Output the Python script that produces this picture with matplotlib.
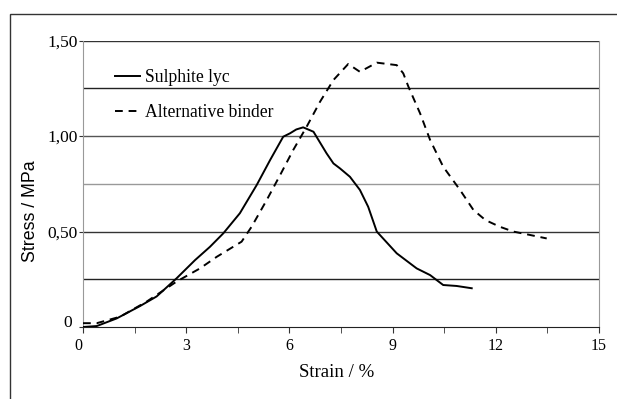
import matplotlib
matplotlib.use("Agg")
import matplotlib.pyplot as plt
from matplotlib.patches import Rectangle
from matplotlib.transforms import ScaledTranslation

# Data
sulphite_x = [0.0, 0.4, 0.98, 1.66, 2.14, 2.72, 3.26, 3.69, 4.08, 4.56, 5.05, 5.44, 5.82, 6.02, 6.2, 6.4, 6.7, 7.08, 7.28, 7.47, 7.76, 8.05, 8.29, 8.54, 9.12, 9.7, 10.09, 10.47, 10.86, 11.3]
sulphite_y = [0.0, 0.005, 0.045, 0.11, 0.16, 0.255, 0.351, 0.42, 0.491, 0.596, 0.744, 0.875, 0.997, 1.015, 1.035, 1.046, 1.023, 0.91, 0.857, 0.831, 0.787, 0.718, 0.63, 0.5, 0.386, 0.307, 0.272, 0.22, 0.215, 0.203]

binder_x = [0.0, 0.4, 1.08, 1.85, 2.72, 3.4, 3.89, 4.61, 4.9, 5.34, 5.73, 6.11, 6.5, 6.89, 7.28, 7.71, 8.05, 8.54, 9.12, 9.31, 9.46, 9.8, 10.09, 10.47, 10.96, 11.35, 11.7, 12.12, 12.51, 13.0, 13.48]
binder_y = [0.02, 0.02, 0.054, 0.133, 0.238, 0.307, 0.368, 0.447, 0.525, 0.665, 0.796, 0.927, 1.049, 1.18, 1.294, 1.378, 1.337, 1.385, 1.372, 1.329, 1.259, 1.119, 0.98, 0.84, 0.718, 0.613, 0.56, 0.525, 0.5, 0.482, 0.464]

x_ticks = [0, 3, 6, 9, 12, 15]
x_minor = [1.5, 4.5, 7.5, 10.5, 13.5]
y_ticks = [0, 0.5, 1.0, 1.5]
y_ticklabels = ["0", "0,50", "1,00", "1,50"]
grid_levels = [0.25, 0.5, 0.75, 1.0, 1.25, 1.5]

serif = "Liberation Serif"
sans = "Liberation Sans"

fig = plt.figure(figsize=(6.17, 3.99), dpi=100)
fig.patch.set_facecolor("white")
# outer frame (cropped on right/bottom)
fig.add_artist(Rectangle((10/617, -0.05), 1.2, 1 - 14/399 + 0.05, transform=fig.transFigure,
                         fill=False, edgecolor="#333333", lw=1.0))

ax = fig.add_axes([83/617, 1 - 327/399, (599 - 83)/617, (327 - 40.7)/399])
ax.set_xlim(0, 15)
ax.set_ylim(0, 1.5)

grid_colors = {0.25: "#222222", 0.5: "#333333", 0.75: "#999999", 1.0: "#555555", 1.25: "#222222", 1.5: "#333333"}
for g in grid_levels:
    ax.axhline(g, color=grid_colors[g], lw=1.0, zorder=1)

ax.plot(sulphite_x, sulphite_y, color="black", lw=1.4, label="Sulphite lyc", zorder=3)
ax.plot(binder_x, binder_y, color="black", lw=1.4, dashes=(4, 3), label="Alternative binder", zorder=3)

ax.spines["top"].set_visible(False)
ax.spines["left"].set_color("#999999")
ax.spines["right"].set_color("#999999")
ax.spines["bottom"].set_color("#222222")

ax.set_xticks(x_ticks)
ax.set_xticklabels([str(t) for t in x_ticks], fontfamily=serif, fontsize=11.5)
ax.set_xticks(x_minor, minor=True)
ax.tick_params(axis="x", which="both", direction="out", length=4, color="#333333", pad=4)
ax.set_yticks(y_ticks)
ax.set_yticklabels(y_ticklabels, fontfamily=serif, fontsize=12.5)
ax.tick_params(axis="y", direction="out", length=3, color="#333333", pad=1)
# the "0" labels sit slightly offset in the reference
lbl0 = ax.get_yticklabels()[0]
lbl0.set_transform(lbl0.get_transform() + ScaledTranslation(-5/100, 6/100, fig.dpi_scale_trans))
xl0 = ax.get_xticklabels()[0]
xl0.set_transform(xl0.get_transform() + ScaledTranslation(-5/100, 0, fig.dpi_scale_trans))

ax.set_xlabel("Strain / %", fontfamily=serif, fontsize=13.5)
ax.xaxis.set_label_coords(0.492, -0.128)
ax.set_ylabel("Stress / MPa", fontfamily=sans, fontsize=12.8)
ax.yaxis.set_label_coords(-0.085, 0.405)

leg = ax.legend(loc="upper left", bbox_to_anchor=(0.031, 0.955), frameon=False,
                prop={"family": serif, "size": 12.7}, handlelength=1.4, handletextpad=0.3,
                labelspacing=1.0)

fig.savefig("out.png", dpi=100, facecolor="white")
